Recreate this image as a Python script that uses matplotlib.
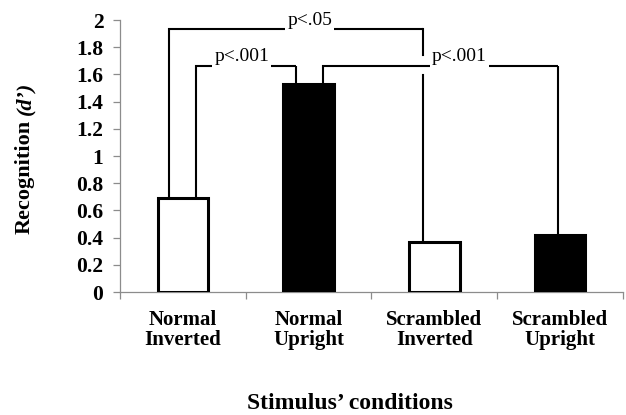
import matplotlib.pyplot as plt

conditions = ['Normal\nInverted', 'Normal\nUpright', 'Scrambled\nInverted', 'Scrambled\nUpright']
recognition = [0.69, 1.53, 0.37, 0.42]
bar_colors = ['white', 'black', 'white', 'black']
y_ticks = [0, 0.2, 0.4, 0.6, 0.8, 1, 1.2, 1.4, 1.6, 1.8, 2]
y_tick_labels = ['0', '0.2', '0.4', '0.6', '0.8', '1', '1.2', '1.4', '1.6', '1.8', '2']

# significance brackets: (left bar, left offset, right bar, right offset, height, label)
brackets = [
    (0, -0.11, 2, -0.087, 1.934, 'p<.05'),
    (0, 0.103, 1, -0.103, 1.662, 'p<.001'),
    (1, 0.111, 3, -0.016, 1.662, 'p<.001'),
]

serif = 'Liberation Serif'
grey = '#8c8c8c'

fig = plt.figure(figsize=(6.26, 4.15), dpi=100)
ax = fig.add_axes([120 / 626, 1 - 292 / 415, 503 / 626, 272 / 415])

x = list(range(len(conditions)))
ax.bar(x, recognition, width=0.4, color=bar_colors, edgecolor='black', linewidth=2.2, zorder=3)

ax.set_xlim(-0.5, 3.5)
ax.set_ylim(0, 2)

for side in ['top', 'right']:
    ax.spines[side].set_visible(False)
for side in ['left', 'bottom']:
    ax.spines[side].set_color(grey)
    ax.spines[side].set_linewidth(0.9)

ax.set_yticks(y_ticks)
ax.set_yticklabels(y_tick_labels, fontfamily=serif, fontweight='bold', fontsize=15.5)
ax.tick_params(axis='y', colors=grey, length=5, width=0.9, pad=7, labelcolor='black')

ax.set_xticks([-0.5, 0.5, 1.5, 2.5, 3.5])
ax.set_xticklabels([])
ax.tick_params(axis='x', which='major', colors=grey, length=5, width=0.9)
ax.set_xticks(x, minor=True)
ax.set_xticklabels(conditions, minor=True, fontfamily=serif, fontweight='bold',
                   fontsize=15, linespacing=1.0)
ax.tick_params(axis='x', which='minor', length=0, pad=13, labelcolor='black')

# brackets
for left, loff, right, roff, h, label in brackets:
    x1 = left + loff
    x2 = right + roff
    ax.plot([x1, x1, x2], [recognition[left], h, h], color='black', lw=1.5,
            zorder=2, clip_on=False, solid_capstyle='butt', solid_joinstyle='miter')
    if label == 'p<.05':
        # right leg hops over the lower bracket
        ax.plot([x2, x2], [h, 1.743], color='black', lw=1.5, clip_on=False, zorder=2)
        ax.plot([x2, x2], [1.596, recognition[right]], color='black', lw=1.5, zorder=2)
        tx, ty = 1.008, 2.0
    else:
        ax.plot([x2, x2], [h, recognition[right]], color='black', lw=1.5, zorder=2,
                solid_capstyle='butt')
        tx, ty = (0.468 if left == 0 else 2.198), 1.728
    ax.text(tx, ty, label, ha='center', va='center', fontfamily=serif, fontsize=14,
            zorder=4, clip_on=False,
            bbox=dict(facecolor='white', edgecolor='none', pad=1.5))

# y label: bold upright word plus italic (d')
renderer = fig.canvas.get_renderer()
t1 = fig.text(25 / 626, 1 - 234 / 415, 'Recognition', rotation=90, ha='center', va='bottom',
              fontfamily=serif, fontweight='bold', fontsize=16)
bb = t1.get_window_extent(renderer=renderer)
fig.text(25 / 626, (bb.y1 + 5) / fig.bbox.height, '(d\u2019)', rotation=90, ha='center',
         va='bottom', fontfamily=serif, fontweight='bold', fontstyle='italic', fontsize=16)

fig.text(350 / 626, 1 - 403 / 415, 'Stimulus\u2019 conditions', ha='center', va='center',
         fontfamily=serif, fontweight='bold', fontsize=17)

fig.savefig('out.png', dpi=100)
